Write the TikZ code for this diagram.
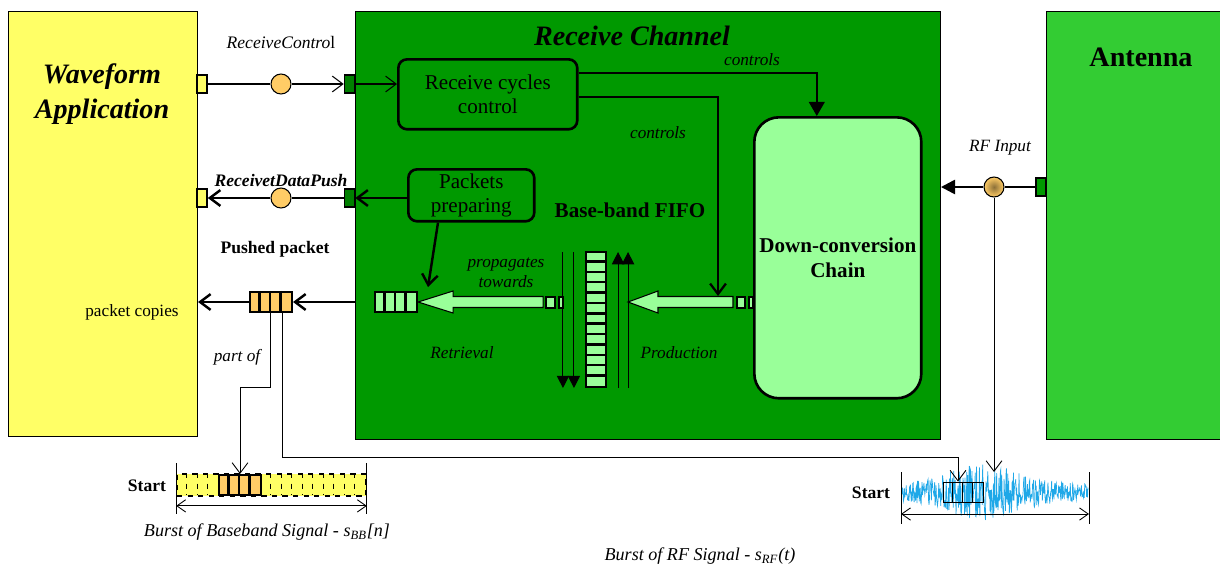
\documentclass[tikz,border=0pt]{standalone}
\usepackage{fontspec}
\setmainfont{Liberation Serif}
\usetikzlibrary{arrows.meta}
\usetikzlibrary{positioning}
\usetikzlibrary{calc}

\definecolor{appyellow}{HTML}{FFFF66}
\definecolor{chgreen}{HTML}{009900}
\definecolor{antgreen}{HTML}{33CC33}
\definecolor{lightgreen}{HTML}{99FF99}
\definecolor{ifaceorange}{HTML}{FFCC66}
\definecolor{portgreen}{HTML}{007F00}
\definecolor{rfblue}{HTML}{1FA8E8}

\begin{document}
\begin{tikzpicture}[x=0.02cm,y=-0.02cm,>={Straight Barb[length=6pt,width=9pt]},line width=0.6pt]
	\tikzstyle{block}=[draw,anchor=north west,inner sep=0pt,line width=0.6pt]
	\tikzstyle{task}=[draw,anchor=north west,inner sep=0pt,line width=1.5pt,align=center,font=\fontsize{12}{14}\selectfont]
	\tikzstyle{port}=[draw,inner sep=0pt,line width=0.9pt,minimum width=0.2cm,minimum height=0.36cm]
	\tikzstyle{iface}=[draw,circle,inner sep=0pt,minimum size=0.4cm,fill=ifaceorange,line width=0.6pt]
	\tikzstyle{pkt}=[draw,inner sep=0pt,minimum width=0.84cm,minimum height=0.4cm,line width=1.2pt]
	\tikzstyle{hollow}=[draw,fill=lightgreen,line width=0.6pt]
	\tikzstyle{lbl}=[inner sep=0pt,font=\fontsize{9.8}{11.5}\selectfont\itshape,align=center]
	\tikzstyle{bold}=[inner sep=0pt,font=\fontsize{10}{12}\selectfont\bfseries,align=center]
	\tikzstyle{fine}=[line width=0.5pt]
	\tikzstyle{heavy}=[line width=1.4pt]
	\tikzstyle{dim}=[fine,{Straight Barb[length=5pt,width=7pt]}-{Straight Barb[length=5pt,width=7pt]}]

	\useasboundingbox (0,0) rectangle (1220,569);

	% main blocks
	\node[block,fill=appyellow,minimum width=3.78cm,minimum height=8.5cm] (App) at (8,11) {};
	\node[block,fill=chgreen,minimum width=11.7cm,minimum height=8.56cm] (Chan) at (355,11) {};
	\node[block,fill=antgreen,minimum width=3.6cm,minimum height=8.56cm] (Ant) at (1046,11) {};
	\node[font=\fontsize{16}{19.5}\selectfont\bfseries\itshape,align=center] (tApp) at (102,94) {Waveform\\Application};
	\node[font=\fontsize{16}{19}\selectfont\bfseries\itshape] (tChan) at (632,36) {Receive Channel};
	\node[font=\fontsize{16}{19}\selectfont\bfseries] (tAnt) at (1141,57) {Antenna};

	\node[task,fill=chgreen,rounded corners=5pt,minimum width=3.58cm,minimum height=1.4cm] (RCC) at (397,58) {Receive cycles\\control};
	\node[task,fill=chgreen,rounded corners=5pt,minimum width=2.52cm,minimum height=1.04cm] (PP) at (407,168) {Packets\\preparing};
	\node[task,fill=lightgreen,rounded corners=14pt,minimum width=3.34cm,minimum height=5.62cm,font=\fontsize{12}{14}\selectfont\bfseries] (DCC) at (753,116) {Down-conversion\\Chain};

	% ports and interfaces
	\node[port,fill=appyellow] (P1) at (202,84) {};
	\node[port,fill=portgreen] (P2) at (349.5,84) {};
	\node[port,fill=appyellow] (P3) at (202,198) {};
	\node[port,fill=portgreen] (P4) at (349.5,198) {};
	\node[port,fill=chgreen] (P5) at (1041,187) {};
	\node[iface] (C1) at (281,84) {};
	\node[iface] (C2) at (281,198) {};
	\node[iface,inner color=black!45!ifaceorange,outer color=ifaceorange] (C3) at (994,187) {};

	% labels
	\node[lbl,font=\fontsize{10}{12}\selectfont] (lRC) at (281,42) {\textit{ReceiveContro}l};
	\node[lbl,font=\fontsize{10}{12}\selectfont\bfseries\itshape] (lRDP) at (281,180) {ReceivetDataPush};
	\node[bold] (lPush) at (275,249) {Pushed packet};
	\node[lbl,font=\fontsize{9.8}{11}\selectfont] (lCop) at (132,312) {packet copies};
	\node[lbl] (lPart) at (237,357) {part of};
	\node[lbl] (lC1) at (752,60) {controls};
	\node[lbl] (lC2) at (658,133) {controls};
	\node[bold,font=\fontsize{12}{14}\selectfont\bfseries] (lFifo) at (630,210) {Base-band FIFO};
	\node[lbl] (lProp) at (506,273) {propagates\\towards};
	\node[lbl] (lRet) at (462,353) {Retrieval};
	\node[lbl] (lProd) at (679,353) {Production};
	\node[lbl] (lRF) at (1000,148) {RF Input};
	\node[bold] (lS1) at (147,486) {Start};
	\node[bold] (lS2) at (871,493) {Start};
	\node[lbl,font=\fontsize{10.3}{12}\selectfont\itshape] (lB1) at (267,532) {Burst of Baseband Signal - s\textsubscript{BB}[n]};
	\node[lbl,font=\fontsize{10.3}{12}\selectfont\itshape] (lB2) at (700,556) {Burst of RF Signal - s\textsubscript{RF}(t)};

	% packets and FIFO
	\node[pkt,fill=ifaceorange] (OP) at (271,302) {};
	\node[pkt,fill=lightgreen] (GP) at (396,302) {};
	\node[pkt,fill=lightgreen,minimum width=0.4cm,minimum height=2.7cm] (FIFO) at (596,319.5) {};
	\foreach \i in {1,...,12}
		\draw[heavy] ($(FIFO.north west)+(0,\i*10.385)$) -- ++(20,0);

	\draw[hollow] (GP.east) -- ++(35,-11) -- ++(0,5.5) -- ++(90,0) -- ++(0,11) -- ++(-90,0) -- ++(0,5.5) -- cycle;
	\draw[hollow] (546,297) rectangle (555,308);
	\draw[hollow] (559,297) rectangle (563,308);
	\draw[hollow] (628,302) -- ++(30,-11) -- ++(0,5.5) -- ++(75,0) -- ++(0,11) -- ++(-75,0) -- ++(0,5.5) -- cycle;
	\draw[hollow] (737,297) rectangle (745,308);
	\draw[hollow] (749,297) rectangle (753,308);

	\draw[-{Triangle[length=7pt,width=7pt]}] ($(FIFO.north west)+(-22,1)$) -- ($(FIFO.south west)+(-22,0)$);
	\draw[-{Triangle[length=7pt,width=7pt]}] ($(FIFO.north west)+(-11,1)$) -- ($(FIFO.south west)+(-11,0)$);
	\draw[-{Triangle[length=7pt,width=7pt]}] ($(FIFO.south east)+(11,0)$) -- ($(FIFO.north east)+(11,1)$);
	\draw[-{Triangle[length=7pt,width=7pt]}] ($(FIFO.south east)+(21,0)$) -- ($(FIFO.north east)+(21,1)$);

	% bursts
	\node[draw,fill=appyellow,dashed,line width=1pt,minimum width=3.78cm,minimum height=0.44cm,inner sep=0pt] (BB) at (271.5,485) {};
	\foreach \i in {1,...,17}
		\draw[dashed] ($(BB.north west)+(\i*10.5,0)$) -- ++(0,22);
	\node[pkt,fill=ifaceorange] (BP) at (240,485) {};
	\foreach \p in {OP,GP,BP}
		\foreach \i in {1,2,3}
			\draw[heavy] ($(\p.north west)+(\i*10.5,0)$) -- ($(\p.south west)+(\i*10.5,0)$);
	\draw[fine] ($(BB.north west)+(0,-10)$) -- ++(0,51);
	\draw[fine] ($(BB.north east)+(0,-10)$) -- ++(0,51);
	\draw[dim] ($(BB.south west)+(0,9)$) -- ($(BB.south east)+(0,9)$);

	\coordinate (rfS) at (901,492);
	\coordinate (rfE) at (1089,492);
	\pgfmathsetseed{7}
	\draw[rfblue,line width=0.4pt] plot[domain=902:1088,samples=400] (\x,{492+rand*(8+20*exp(-((\x-985)/50)*((\x-985)/50)))});
	\node[draw,fine,minimum width=0.8cm,minimum height=0.4cm,inner sep=0pt] (RP) at (963,492) {};
	\foreach \i in {1,2,3}
		\draw[fine] ($(RP.north west)+(\i*10,0)$) -- ++(0,20);
	\draw[fine] ($(rfS)+(0,-20)$) -- ++(0,52);
	\draw[fine] ($(rfE)+(0,-20)$) -- ++(0,52);
	\draw[dim] ($(rfS)+(0,22)$) -- ($(rfE)+(0,22)$);

	% connectors
	\coordinate (prod) at (718,296);
	\coordinate (pk) at (428,287);
	\coordinate (rfin) at (994,472);
	\draw (P1) -- (C1);
	\draw[->] (C1) -- (P2);
	\draw[->] (P2.east) -- (P2.east -| RCC.west);
	\draw[heavy,->] (P4 -| PP.west) -- (P4.east);
	\draw[heavy] (P4) -- (C2);
	\draw[heavy,->] (C2) -- (P3.east);
	\draw[line width=0.9pt,-{Triangle[length=8pt,width=9pt]}] ($(RCC.north east)+(0,15)$) -| ($(DCC.north)+(-21,0)$);
	\draw[line width=1.3pt,->] ($(RCC.east)+(0,3)$) -| (prod);
	\draw[heavy,->] ($(PP.south west)+(31,0)$) -- (pk);
	\draw[heavy,->] (Chan.west |- OP) -- (OP.east);
	\draw[heavy,->] (OP.west) -- (App.east |- OP);
	\draw[heavy] (P5) -- (C3);
	\draw[heavy,-{Triangle[length=8pt,width=8pt]}] (C3) -- (Chan.east |- C3);
	\draw[fine,->] (C3) -- (rfin);
	\draw[fine,->] ($(OP.south)+(-1,0)$) -- ++(0,74) -| (BP.north);
	\draw[fine,->] ($(OP.south)+(11,0)$) -- ++(0,144) -| ($(RP.north)+(-5,0)$);
\end{tikzpicture}
\end{document}
